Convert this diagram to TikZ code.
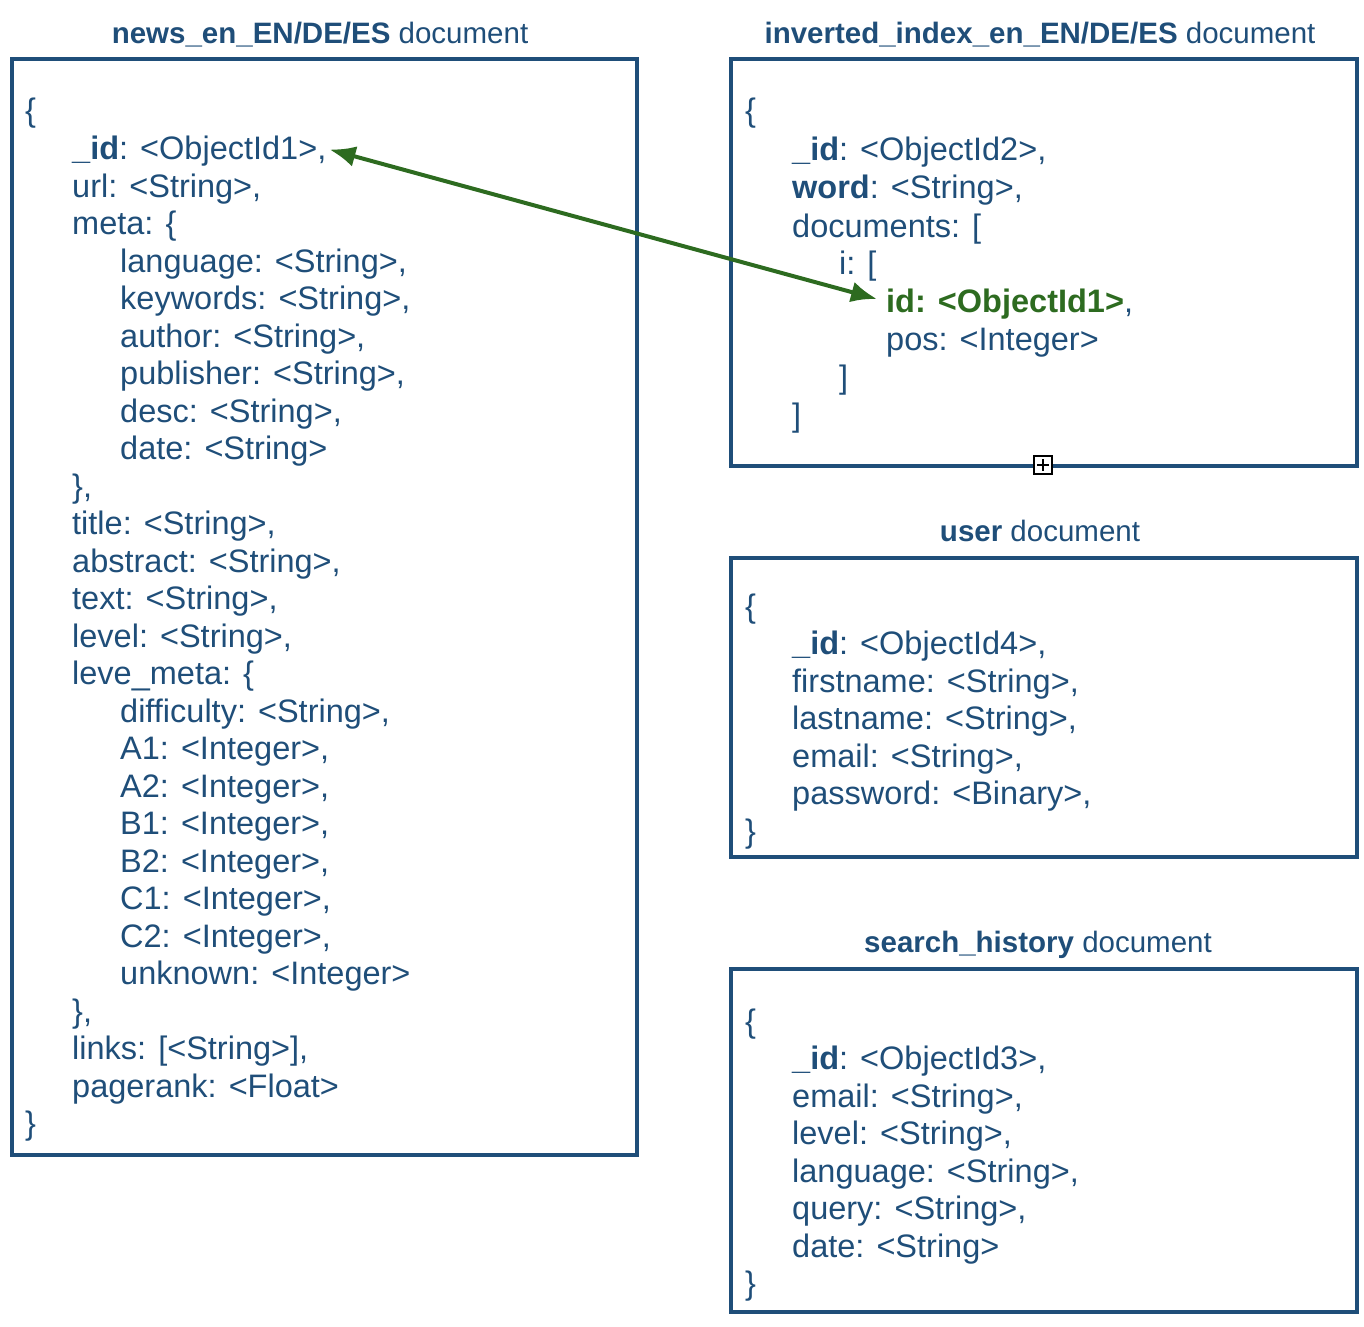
\documentclass[tikz,border=0pt]{standalone}
\usepackage{fontspec}
\setmainfont{Liberation Sans}
\usetikzlibrary{arrows.meta,calc}
\definecolor{docblue}{RGB}{31,78,121}
\definecolor{docgreen}{RGB}{45,107,32}
\newcommand\docline[4]{\node[txt] (#1) at (#2,#3) {#4};}
\begin{document}
\begin{tikzpicture}[x=1pt,y=-1pt,
  txt/.style={anchor=base west,inner sep=0pt,text=docblue,font=\fontsize{32.5}{37.5}\selectfont},
  ttl/.style={anchor=base,inner sep=0pt,text=docblue,font=\fontsize{29.5}{34}\selectfont},
  docbox/.style={draw=docblue,line width=4pt},
  link/.style={draw=docgreen,line width=4pt,{Latex[length=26pt,width=21pt]}-{Latex[length=26pt,width=21pt]}}]
\useasboundingbox (0,0) rectangle (1364,1326);
% boxes
\draw[docbox] (12,59) rectangle (637,1155);
\draw[docbox] (731,59) rectangle (1357,466);
\draw[docbox] (731,558) rectangle (1357,857);
\draw[docbox] (731,969) rectangle (1357,1312);
% collapse marker
\node[draw=black,fill=white,line width=1.8pt,minimum size=18pt,inner sep=0pt] (mk) at (1043,465) {};
\draw[black,line width=1.8pt] ($(mk.center)+(-6,0)$) -- ($(mk.center)+(6,0)$);
\draw[black,line width=1.8pt] ($(mk.center)+(0,-6)$) -- ($(mk.center)+(0,6)$);
% titles
\node[ttl] (t1) at (320,43) {\textbf{news\_en\_EN/DE/ES} document};
\node[ttl] (t2) at (1040,43) {\textbf{inverted\_index\_en\_EN/DE/ES} document};
\node[ttl] (t3) at (1040,541) {\textbf{user} document};
\node[ttl] (t4) at (1038,952) {\textbf{search\_history} document};
% news document
\docline{n0}{25}{121}{\{}
\docline{n1}{72}{159.5}{\textbf{\_id}: <ObjectId1>,}
\docline{n2}{72}{197}{url: <String>,}
\docline{n3}{72}{234.5}{meta: \{}
\docline{n4}{120}{272}{language: <String>,}
\docline{n5}{120}{309.5}{keywords: <String>,}
\docline{n6}{120}{347}{author: <String>,}
\docline{n7}{120}{384.5}{publisher: <String>,}
\docline{n8}{120}{422}{desc: <String>,}
\docline{n9}{120}{459.5}{date: <String>}
\docline{n10}{72}{497}{\},}
\docline{n11}{72}{534.5}{title: <String>,}
\docline{n12}{72}{572}{abstract: <String>,}
\docline{n13}{72}{609.5}{text: <String>,}
\docline{n14}{72}{647}{level: <String>,}
\docline{n15}{72}{684.5}{leve\_meta: \{}
\docline{n16}{120}{722}{difficulty: <String>,}
\docline{n17}{120}{759.5}{A1: <Integer>,}
\docline{n18}{120}{797}{A2: <Integer>,}
\docline{n19}{120}{834.5}{B1: <Integer>,}
\docline{n20}{120}{872}{B2: <Integer>,}
\docline{n21}{120}{909.5}{C1: <Integer>,}
\docline{n22}{120}{947}{C2: <Integer>,}
\docline{n23}{120}{984.5}{unknown: <Integer>}
\docline{n24}{72}{1022}{\},}
\docline{n25}{72}{1059.5}{links: [<String>],}
\docline{n26}{72}{1097}{pagerank: <Float>}
\docline{n27}{25}{1134.5}{\}}
% inverted index
\docline{i0}{745}{121}{\{}
\docline{i1}{792}{160}{\textbf{\_id}: <ObjectId2>,}
\docline{i2}{792}{198.5}{\textbf{word}: <String>,}
\docline{i3}{792}{237}{documents: [}
\docline{i4}{839}{274}{i: [}
\docline{i5}{886}{312}{\textcolor{docgreen}{\textbf{id: <ObjectId1>}},}
\docline{i6}{886}{350}{pos: <Integer>}
\docline{i7}{839}{388}{]}
\docline{i8}{792}{426}{]}
% user
\docline{u0}{745}{617}{\{}
\docline{u1}{792}{654.5}{\textbf{\_id}: <ObjectId4>,}
\docline{u2}{792}{692}{firstname: <String>,}
\docline{u3}{792}{729.5}{lastname: <String>,}
\docline{u4}{792}{767}{email: <String>,}
\docline{u5}{792}{804.5}{password: <Binary>,}
\docline{u6}{745}{842}{\}}
% search history
\docline{s0}{745}{1032}{\{}
\docline{s1}{792}{1069.5}{\textbf{\_id}: <ObjectId3>,}
\docline{s2}{792}{1107}{email: <String>,}
\docline{s3}{792}{1144.5}{level: <String>,}
\docline{s4}{792}{1182}{language: <String>,}
\docline{s5}{792}{1219.5}{query: <String>,}
\docline{s6}{792}{1257}{date: <String>}
\docline{s7}{745}{1294.5}{\}}
% link
\draw[link] ($(n1.base east)+(3,-10)$) -- ($(i5.base west)+(-9,-13)$);
\end{tikzpicture}
\end{document}
